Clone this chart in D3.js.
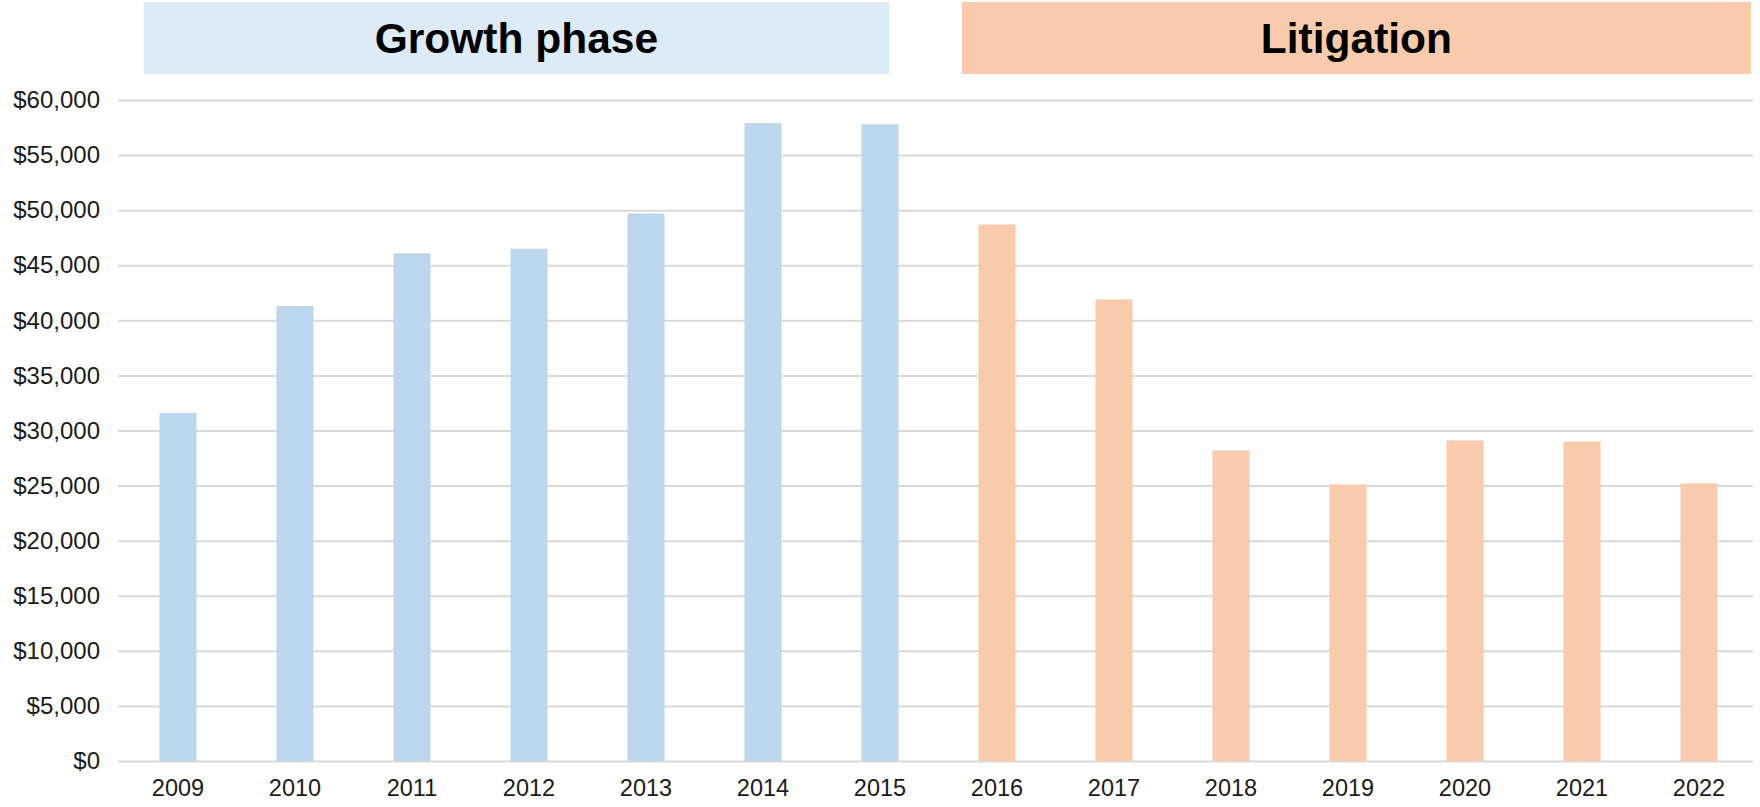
<!DOCTYPE html>
<html>
<head>
<meta charset="utf-8">
<script src="https://cdn.jsdelivr.net/npm/d3@7"></script>
<style>
  body { margin: 0; background: #fff; }
  svg { display: block; font-family: "Liberation Sans", Arial, sans-serif; }
</style>
</head>
<body>
<svg class="chart"></svg>
<script>
const years = ["2009", "2010", "2011", "2012", "2013", "2014", "2015",
               "2016", "2017", "2018", "2019", "2020", "2021", "2022"]
const amounts = [31600, 41300, 46100, 46500, 49700, 57900, 57800,
                 48700, 41900, 28200, 25100, 29100, 29000, 25200]
const phaseNames = ["Growth phase", "Litigation"]
const phaseFirst = ["2009", "2016"]
const phaseLast = ["2015", "2022"]
const yTicks = [0, 5000, 10000, 15000, 20000, 25000, 30000, 35000, 40000, 45000, 50000, 55000, 60000]

var width = 1760, height = 807
var gridLeft = 118, gridRight = 1753

var svg = d3.select(".chart")
    .attr("width", width)
    .attr("height", height)

var x = d3.scaleBand()
    .domain(years)
    .range([119.5, 1757.5])
    .paddingInner(0.683)
    .paddingOuter(0.3415)

var y = d3.scaleLinear()
    .domain([0, 60000])
    .range([761, 100])

var barColors = ["#BDD7EE", "#F8CBAD"]
var bannerColors = ["#DDEBF7", "#F8CBAD"]

// gridlines + y labels
svg.append("g")
    .attr("class", "yaxis")
    .attr("transform", `translate(${gridLeft},0)`)
    .call(d3.axisLeft(y)
        .tickValues(yTicks)
        .tickSize(-(gridRight - gridLeft))
        .tickPadding(18)
        .tickFormat(d => "$" + d3.format(",")(d)))
    .call(g => g.select(".domain").remove())
    .call(g => g.selectAll("line").attr("stroke", "#D9D9D9").attr("stroke-width", 2))
    .call(g => g.selectAll("text").attr("fill", "#1a1a1a").style("font-size", "24px"))

// x labels
svg.append("g")
    .attr("class", "xaxis")
    .attr("transform", "translate(0,761)")
    .call(d3.axisBottom(x).tickSize(0).tickPadding(18))
    .call(g => g.select(".domain").remove())
    .call(g => g.selectAll("text").attr("fill", "#1a1a1a").style("font-size", "23.5px"))

// bars
svg.append("g")
    .selectAll("rect")
    .data(years)
    .enter().append("rect")
    .attr("x", d => x(d))
    .attr("y", (d, i) => y(amounts[i]))
    .attr("width", x.bandwidth())
    .attr("height", (d, i) => y(0) - y(amounts[i]))
    .attr("fill", (d, i) => barColors[years.indexOf(d) < years.indexOf(phaseFirst[1]) ? 0 : 1])

// phase banners
var step = x.step()
var bandStart = d => x(d) - x.step() * x.paddingInner() / 2
var bannerX0 = [bandStart(phaseFirst[0]) + step * 0.207, bandStart(phaseFirst[1]) + step * 0.2]
var bannerX1 = [bandStart(phaseLast[0]) + step * 0.577, bandStart(phaseLast[1]) + step * 0.944]

var banners = svg.append("g").selectAll("g")
    .data(phaseNames)
    .enter().append("g")

banners.append("rect")
    .attr("x", (d, i) => bannerX0[i])
    .attr("y", 2)
    .attr("width", (d, i) => bannerX1[i] - bannerX0[i])
    .attr("height", 72)
    .attr("fill", (d, i) => bannerColors[i])

banners.append("text")
    .attr("x", (d, i) => (bannerX0[i] + bannerX1[i]) / 2)
    .attr("y", 53)
    .attr("text-anchor", "middle")
    .style("font-size", "42.5px")
    .style("font-weight", "bold")
    .attr("fill", "#000")
    .text(d => d)
</script>
</body>
</html>
